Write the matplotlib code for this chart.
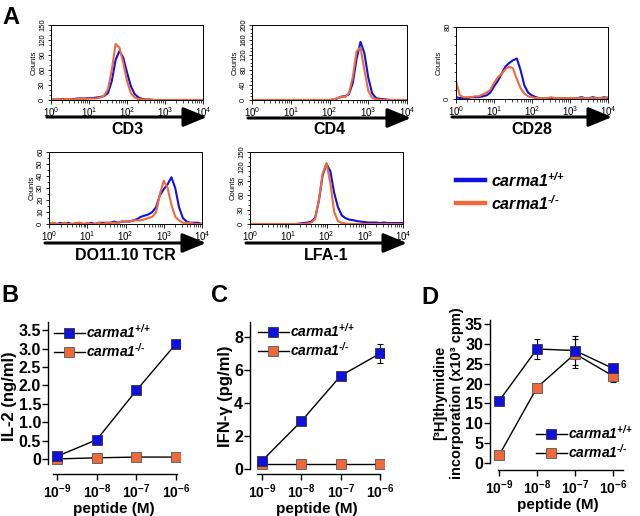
import numpy as np
import matplotlib
matplotlib.use("Agg")
import matplotlib.pyplot as plt
from matplotlib.lines import Line2D
from matplotlib.patches import ArrowStyle, FancyArrowPatch
from matplotlib.ticker import AutoMinorLocator, LogFormatterMathtext

plt.rcParams['font.family'] = ['Liberation Sans', 'DejaVu Sans']
plt.rcParams['mathtext.fontset'] = 'custom'
plt.rcParams['mathtext.it'] = 'Liberation Sans:italic:bold'
plt.rcParams['mathtext.rm'] = 'Liberation Sans:italic:bold'
plt.rcParams['mathtext.bf'] = 'Liberation Sans:bold'

BLUE = '#1010e0'
ORANGE = '#ee6a3c'
LAB_WT = r'$carma1^{\text{+/+}}$'
LAB_KO = r'$carma1^{\text{-/-}}$'

# ---- panel A: flow histograms, counts per 0.1 decade (log10 fluorescence 0..4)
hist_decades = np.linspace(0, 4, 41)

cd3_wt = [1, 1, 1, 2, 2, 2, 2, 3, 3, 3, 4, 4, 5, 6, 8, 14, 38, 80, 98, 85,
          55, 28, 12, 5, 2, 1, 1, 0, 0, 0, 0, 0, 0, 0, 0, 0, 0, 0, 0, 0, 0]
cd3_ko = [1, 1, 2, 1, 2, 2, 1, 2, 2, 2, 3, 3, 3, 5, 9, 22, 60, 112, 105, 75,
          38, 14, 5, 2, 1, 1, 1, 0, 0, 0, 0, 0, 0, 0, 0, 0, 0, 0, 0, 0, 0]

cd4_wt = [0, 0, 0, 0, 0, 0, 0, 0, 0, 0, 0, 0, 0, 0, 0, 0, 0, 0, 0, 0,
          0, 1, 4, 9, 10, 15, 45, 110, 155, 125, 60, 18, 5, 3, 2, 1, 0, 0, 0, 0, 0]
cd4_ko = [0, 0, 0, 0, 0, 0, 0, 0, 0, 0, 0, 0, 0, 0, 0, 0, 0, 0, 0, 0,
          0, 1, 5, 8, 8, 18, 60, 130, 140, 80, 25, 6, 2, 1, 0, 0, 0, 0, 0, 0, 0]

cd28_wt = [2, 1, 1, 1, 2, 2, 2, 3, 4, 7, 14, 20, 28, 36, 40, 43, 45, 32, 15, 7,
           4, 2, 1, 1, 1, 1, 1, 1, 1, 1, 1, 1, 1, 2, 1, 1, 2, 1, 1, 2, 1]
cd28_ko = [20, 4, 2, 2, 2, 3, 3, 5, 7, 10, 18, 24, 28, 33, 36, 34, 22, 12, 6, 3,
           2, 1, 1, 1, 1, 2, 1, 1, 1, 1, 1, 1, 1, 1, 1, 1, 1, 1, 1, 1, 2]

tcr_wt = [0, 1, 0, 1, 0, 1, 0, 0, 1, 0, 0, 1, 0, 1, 1, 1, 1, 2, 1, 2,
          2, 2, 3, 4, 6, 7, 8, 10, 14, 24, 29, 33, 39, 30, 14, 5, 2, 1, 1, 1, 0]
tcr_ko = [0, 1, 0, 0, 1, 0, 0, 1, 1, 0, 1, 0, 0, 1, 0, 1, 1, 1, 1, 2,
          2, 2, 3, 3, 3, 4, 5, 6, 10, 25, 36, 30, 16, 6, 3, 1, 1, 1, 0, 0, 0]

lfa_wt = [0, 0, 0, 0, 0, 0, 0, 0, 0, 0, 0, 0, 0, 1, 2, 3, 5, 12, 48, 102,
          125, 110, 65, 35, 18, 12, 9, 8, 6, 5, 4, 3, 3, 3, 2, 3, 2, 2, 2, 2, 2]
lfa_ko = [0, 0, 0, 0, 0, 0, 0, 0, 0, 0, 0, 0, 0, 0, 0, 1, 3, 10, 50, 105,
          127, 85, 25, 6, 2, 1, 0, 0, 0, 0, 0, 0, 0, 0, 0, 0, 0, 0, 0, 0, 0]

# ---- panels B-D: peptide dose response
peptide = [1e-9, 1e-8, 1e-7, 1e-6]
il2_wt = [0.07, 0.52, 1.86, 3.13]
il2_ko = [0.0, 0.03, 0.05, 0.05]
ifn_wt = [0.5, 2.9, 5.65, 7.0]
ifn_wt_err = [0, 0, 0, 0.55]
ifn_ko = [0.3, 0.3, 0.3, 0.3]
thy_wt = [15.6, 28.7, 28.3, 23.8]
thy_wt_err = [0, 2.6, 3.7, 0.6]
thy_ko = [1.9, 19.0, 27.5, 21.9]
thy_ko_err = [0, 0, 3.7, 1.6]

W, H = 640, 516
fig = plt.figure(figsize=(W / 100, H / 100), dpi=100)


def fx(px):
    return px / W


def fy(py):
    return 1 - py / H


def add_axes_px(l, t, r, b):
    return fig.add_axes([fx(l), fy(b), (r - l) / W, (b - t) / H])


def hist_panel(box, wt, ko, ymax, ystep, nminor, label, arrow_y):
    l, t, r, b = box
    ax = add_axes_px(l, t, r, b)
    x = 10 ** hist_decades
    ax.plot(x, wt, color=BLUE, lw=1.5)
    ax.plot(x, ko, color=ORANGE, lw=1.5)
    ax.set_xscale('log')
    ax.set_xlim(1, 1e4)
    ax.set_ylim(0, ymax)
    ax.set_yticks(np.arange(0, ymax + 1, ystep))
    ax.yaxis.set_minor_locator(AutoMinorLocator(nminor))
    ax.xaxis.set_major_formatter(LogFormatterMathtext())
    ax.tick_params(axis='x', which='major', labelsize=7, length=3, width=0.6, pad=1)
    ax.tick_params(axis='x', which='minor', length=1.8, width=0.5)
    ax.tick_params(axis='y', which='major', labelsize=5.5, length=2.5, width=0.6,
                   pad=1, labelrotation=90)
    ax.tick_params(axis='y', which='minor', length=1.5, width=0.5)
    for lab in ax.get_yticklabels():
        lab.set_va('center')
    for s in ax.spines.values():
        s.set_linewidth(0.7)
    ax.set_ylabel('Counts', fontsize=5.5, labelpad=1)
    style = ArrowStyle('-|>', head_length=0.8, head_width=0.33)
    fig.add_artist(FancyArrowPatch(
        (fx(l - 4), fy(arrow_y)), (fx(r + 4), fy(arrow_y)),
        transform=fig.transFigure, arrowstyle=style, mutation_scale=18,
        lw=2.2, color='black', shrinkA=0, shrinkB=0))
    fig.text(fx((l + r) / 2), fy(arrow_y + 12), label, ha='center', va='center',
             fontsize=11.5, fontweight='bold')
    return ax


hist_panel((51, 25, 203, 100), cd3_wt, cd3_ko, 150, 30, 3, 'CD3', 117)
hist_panel((252, 25, 407, 100), cd4_wt, cd4_ko, 200, 40, 4, 'CD4', 118)
hist_panel((456, 27, 608, 99), cd28_wt, cd28_ko, 80, 80, 8, 'CD28', 117)
hist_panel((49, 152, 202, 224), tcr_wt, tcr_ko, 60, 10, 2, 'DO11.10 TCR', 243)
hist_panel((250, 152, 403, 224), lfa_wt, lfa_ko, 150, 30, 3, 'LFA-1', 243)

# legend of panel A
fig.add_artist(Line2D([fx(456), fx(485)], [fy(180), fy(180)], color=BLUE, lw=3.2,
                      transform=fig.transFigure))
fig.add_artist(Line2D([fx(456), fx(485)], [fy(203), fy(203)], color=ORANGE, lw=3.2,
                      transform=fig.transFigure))
fig.text(fx(491), fy(181), LAB_WT, fontsize=11.5, va='center', ha='left')
fig.text(fx(491), fy(204), LAB_KO, fontsize=11.5, va='center', ha='left')

# panel letters
for letter, (px_, py_) in zip('ABCD', [(2, 17), (1, 296), (211, 296), (421, 298)]):
    fig.text(fx(px_), fy(py_), letter, fontsize=17, fontweight='bold', va='center')

xtick_labels = [r'$\mathdefault{10^{-9}}$', r'$\mathdefault{10^{-8}}$',
                r'$\mathdefault{10^{-7}}$', r'$\mathdefault{10^{-6}}$']


def dose_panel(box, xlim, ylim, xbounds, ybounds, yticks, ylabels, ylabel, ylsize,
               wt, ko, wt_err=None, ko_err=None):
    ax = add_axes_px(*box)
    if ko_err is not None:
        ax.errorbar(peptide, ko, yerr=ko_err, fmt='none', ecolor='black',
                    elinewidth=0.8, capsize=2.5, capthick=0.8, zorder=1)
    if wt_err is not None:
        ax.errorbar(peptide, wt, yerr=wt_err, fmt='none', ecolor='black',
                    elinewidth=0.8, capsize=2.5, capthick=0.8, zorder=1)
    h_ko, = ax.plot(peptide, ko, color='black', lw=1, marker='s', ms=7.5,
                    mfc=ORANGE, mec='#555555', mew=0.6, zorder=2)
    h_wt, = ax.plot(peptide, wt, color='black', lw=1, marker='s', ms=7.5,
                    mfc=BLUE, mec='#333333', mew=0.6, zorder=3)
    ax.set_xscale('log')
    ax.set_xlim(*xlim)
    ax.set_ylim(*ylim)
    ax.minorticks_off()
    ax.set_xticks(peptide, xtick_labels, fontsize=10, fontweight='bold')
    ax.set_yticks(yticks, ylabels, fontsize=11.5, fontweight='bold')
    ax.tick_params(axis='both', length=4, width=1)
    ax.tick_params(axis='y', pad=1)
    ax.tick_params(axis='x', pad=2)
    for side in ('top', 'right'):
        ax.spines[side].set_visible(False)
    ax.spines['left'].set_bounds(*ybounds)
    ax.spines['bottom'].set_bounds(*xbounds)
    ax.spines['left'].set_linewidth(1)
    ax.spines['bottom'].set_linewidth(1)
    ax.set_xlabel('peptide (M)', fontsize=11, fontweight='bold', labelpad=1)
    ax.set_ylabel(ylabel, fontsize=ylsize, fontweight='bold', labelpad=1)
    return ax, h_wt, h_ko


def dose_legend(ax, h_wt, h_ko, left, top):
    ax.legend([h_wt, h_ko], [LAB_WT, LAB_KO], loc='upper left',
              bbox_to_anchor=(fx(left), fy(top)), bbox_transform=fig.transFigure,
              frameon=False, fontsize=10, handlelength=2.2, handletextpad=0.1,
              labelspacing=0.05, borderpad=0, borderaxespad=0)


# B
ax_b, hw, hk = dose_panel((48, 318, 180, 474), (10 ** -9.227, 10 ** -5.9), (-0.41, 3.83),
                          (10 ** -9.1, 10 ** -5.975), (-0.15, 3.72),
                          [0, 0.5, 1.0, 1.5, 2.0, 2.5, 3.0, 3.5],
                          ['0', '0.5', '1.0', '1.5', '2.0', '2.5', '3.0', '3.5'],
                          'IL-2 (ng/ml)', 12, il2_wt, il2_ko)
dose_legend(ax_b, hw, hk, 54, 323)

# C
ax_c, hw, hk = dose_panel((250, 318, 384, 474), (10 ** -9.305, 10 ** -5.9), (-0.30, 9.15),
                          (10 ** -9.127, 10 ** -6.0), (0, 8.9),
                          [0, 2, 4, 6, 8], ['0', '2', '4', '6', '8'],
                          'IFN-γ (pg/ml)', 12, ifn_wt, ifn_ko, wt_err=ifn_wt_err)
dose_legend(ax_c, hw, hk, 258, 322)

# D
ax_d, hw, hk = dose_panel((490, 316, 626, 470), (10 ** -9.237, 10 ** -5.658), (-1.76, 37.0),
                          (10 ** -9.026, 10 ** -5.737), (0, 35.9),
                          list(range(0, 36, 5)), [str(v) for v in range(0, 36, 5)],
                          '[³H]thymidine\nincorporation (x10³ cpm)', 10.5,
                          thy_wt, thy_ko, wt_err=thy_wt_err, ko_err=thy_ko_err)
dose_legend(ax_d, hw, hk, 536, 424)

fig.savefig('out.png', dpi=100)
